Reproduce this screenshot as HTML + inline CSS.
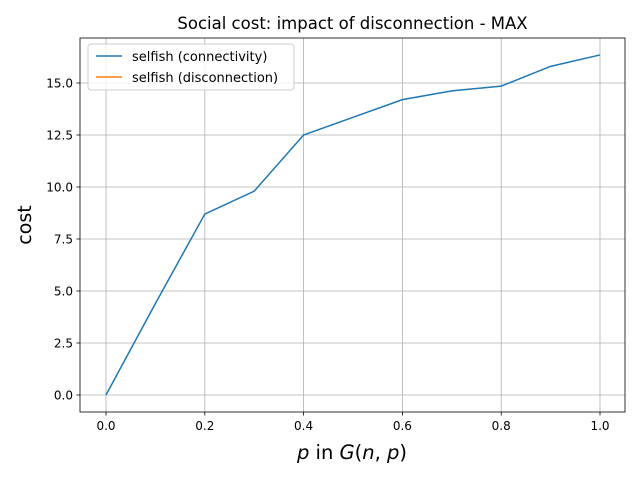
<!DOCTYPE html>
<html><head><meta charset="utf-8"><style>
body{margin:0;background:#fff}
svg text{font-family:"DejaVu Sans","Liberation Sans",sans-serif;fill:#000}
</style></head><body>
<svg width="640" height="480" xmlns="http://www.w3.org/2000/svg" id="c">
<rect width="640" height="480" fill="#fff"/>
<g id="grid"></g><g id="lines"></g>
<rect x="80" y="38" width="545" height="374" fill="none" stroke="#000" stroke-width="0.8"/>
<g id="ticks"></g>
<text x="352.5" y="29" text-anchor="middle" font-size="16.5">Social cost: impact of disconnection - MAX</text>
<text x="352" y="459" text-anchor="middle" font-size="19.5"><tspan font-style="italic">p</tspan> in <tspan font-style="italic">G</tspan>(<tspan font-style="italic">n</tspan>, <tspan font-style="italic">p</tspan>)</text>
<text transform="translate(31,225) rotate(-90)" text-anchor="middle" font-size="19">cost</text>
<g>
<rect x="88" y="44" width="206" height="46" rx="3" fill="#fff" fill-opacity="0.8" stroke="#ccc"/>
<line x1="96" y1="56" x2="122" y2="56" stroke="#1f77b4" stroke-width="1.5"/>
<text x="132" y="61" font-size="13">selfish (connectivity)</text>
<line x1="96" y1="77" x2="122" y2="77" stroke="#ff7f0e" stroke-width="1.5"/>
<text x="132" y="82" font-size="13">selfish (disconnection)</text>
</g>
</svg>
<script>
const xValues=[0,0.1,0.2,0.3,0.4,0.5,0.6,0.7,0.8,0.9,1.0];
const connectivity=[0,4.4,8.7,9.8,12.5,13.35,14.2,14.62,14.85,15.8,16.35];
const disconnection=[];
const xTicks=["0.0","0.2","0.4","0.6","0.8","1.0"];
const yTicks=["0.0","2.5","5.0","7.5","10.0","12.5","15.0"];
const NS="http://www.w3.org/2000/svg";
const X=v=>106+v*494, Y=v=>395-v*20.8;
function mk(t,a,p){const e=document.createElementNS(NS,t);for(const k in a)e.setAttribute(k,a[k]);p.appendChild(e);return e;}
const g=document.getElementById('grid'),tk=document.getElementById('ticks'),ln=document.getElementById('lines');
xTicks.forEach(s=>{const x=X(parseFloat(s));
const l=mk('line',{x1:x,x2:x,y1:38,y2:412,stroke:'#b0b0b0','stroke-width':0.8},g);

mk('line',{x1:x,x2:x,y1:412,y2:415.5,stroke:'#000','stroke-width':0.8},tk);
const t=mk('text',{x:x,y:430,'text-anchor':'middle','font-size':12},tk);t.textContent=s;
});
yTicks.forEach(s=>{const y=Y(parseFloat(s));
const l=mk('line',{x1:80,x2:625,y1:y,y2:y,stroke:'#b0b0b0','stroke-width':0.8},g);

mk('line',{x1:76.5,x2:80,y1:y,y2:y,stroke:'#000','stroke-width':0.8},tk);
const t=mk('text',{x:73,y:y+4.5,'text-anchor':'end','font-size':12},tk);t.textContent=s;
});
const p1=mk('polyline',{points:xValues.map((x,i)=>X(x)+','+Y(connectivity[i])).join(' '),fill:'none',stroke:'#1f77b4','stroke-width':1.5},ln);

const p2=mk('polyline',{points:disconnection.map((v,i)=>X(xValues[i])+','+Y(v)).join(' '),fill:'none',stroke:'#ff7f0e','stroke-width':1.5},ln);

</script>
</body></html>
